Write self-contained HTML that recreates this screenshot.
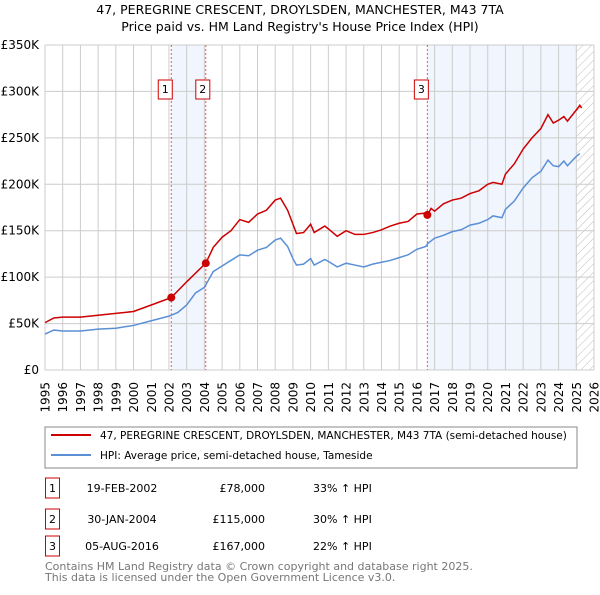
<!DOCTYPE html>
<html><head><meta charset="utf-8"><style>
body{margin:0;width:600px;height:590px;background:#fff;font-family:"Liberation Sans","DejaVu Sans",sans-serif;overflow:hidden}
svg text{font-family:"DejaVu Sans","Liberation Sans",sans-serif}
</style></head><body>
<svg id="c" width="600" height="590">
<text x="300" y="14" text-anchor="middle" font-size="12.5">47, PEREGRINE CRESCENT, DROYLSDEN, MANCHESTER, M43 7TA</text>
<text x="300" y="31" text-anchor="middle" font-size="12.5">Price paid vs. HM Land Registry's House Price Index (HPI)</text>
<g id="plot"></g>
<rect x="45" y="427" width="532" height="41" fill="none" stroke="#888"/>
<line x1="51" y1="435" x2="91" y2="435" stroke="#cc0000" stroke-width="2"/>
<text x="100" y="439" font-size="10.5">47, PEREGRINE CRESCENT, DROYLSDEN, MANCHESTER, M43 7TA (semi-detached house)</text>
<line x1="51" y1="455" x2="91" y2="455" stroke="#5b8fd6" stroke-width="2"/>
<text x="100" y="459" font-size="10.5">HPI: Average price, semi-detached house, Tameside</text>
<g id="tbl"></g>
<text x="45" y="570" font-size="11" fill="#777">Contains HM Land Registry data © Crown copyright and database right 2025.</text>
<text x="45" y="581" font-size="11" fill="#777">This data is licensed under the Open Government Licence v3.0.</text>
</svg>
<script>
const hpiT=[1995,1995.5,1996,1997,1998,1999,2000,2001,2002,2002.5,2003,2003.5,2004,2004.5,2005,2005.5,2006,2006.5,2007,2007.5,2008,2008.3,2008.7,2009,2009.2,2009.6,2010,2010.2,2010.8,2011,2011.5,2012,2012.5,2013,2013.5,2014,2014.5,2015,2015.5,2016,2016.5,2016.6,2017,2017.5,2018,2018.5,2019,2019.5,2020,2020.3,2020.8,2021,2021.5,2022,2022.5,2023,2023.4,2023.7,2024,2024.3,2024.5,2025,2025.2];
const hpiV=[38.7,43,42,42,44,45,48,53,58,62,70,83,89,106,112,118,124,123,129,132,140,142,133,120,113,114,120,113,119,117,111,115,113,111,114,116,118,121,124,130,133,136,142,145,149,151,156,158,162,166,164,173,182,196,207,214,226,220,219,225,220,230,233];
const redT=[1995,1995.5,1996,1997,1998,1999,2000,2001,2002.13,2003,2004.08,2004.5,2005,2005.5,2006,2006.5,2007,2007.5,2008,2008.3,2008.7,2009.2,2009.6,2010,2010.2,2010.8,2011,2011.5,2012,2012.5,2013,2013.5,2014,2014.5,2015,2015.5,2016,2016.5,2016.6,2016.8,2017,2017.5,2018,2018.5,2019,2019.5,2020,2020.3,2020.8,2021,2021.5,2022,2022.5,2023,2023.4,2023.7,2024,2024.3,2024.5,2025,2025.2,2025.3];
const redV=[51,56,57,57,59,61,63,70,78,95,115,132,143,150,162,159,168,172,183,185,172,147,148,157,148,155,152,144,150,146,146,148,151,155,158,160,168,169,167,174,171,179,183,185,190,193,200,202,200,211,222,238,250,260,275,266,269,273,268,280,285,282];
const saleT=[2002.13,2004.08,2016.59];
const saleV=[78,115,167];
const saleLabels=["1","2","3"];
const saleDates=["19-FEB-2002","30-JAN-2004","05-AUG-2016"];
const salePrices=["£78,000","£115,000","£167,000"];
const salePct=["33% ↑ HPI","30% ↑ HPI","22% ↑ HPI"];
const yTicks=[0,50,100,150,200,250,300,350];
const yLabels=["£0","£50K","£100K","£150K","£200K","£250K","£300K","£350K"];
const xYears=[1995,1996,1997,1998,1999,2000,2001,2002,2003,2004,2005,2006,2007,2008,2009,2010,2011,2012,2013,2014,2015,2016,2017,2018,2019,2020,2021,2022,2023,2024,2025,2026];
const X=t=>45+(t-1995)*549/31, Y=v=>370-v*325/350;
const NS="http://www.w3.org/2000/svg",g=document.getElementById('plot');
function mk(tag,a,p){const e=document.createElementNS(NS,tag);for(const k in a)e.setAttribute(k,a[k]);(p||g).appendChild(e);return e;}
let e;
e=mk('rect',{x:X(saleT[0]),y:Y(350),width:X(saleT[1])-X(saleT[0]),height:325,fill:'#eef3fc',opacity:0.8});


e=mk('rect',{x:X(saleT[2]),y:Y(350),width:X(2025)-X(saleT[2]),height:325,fill:'#eef3fc',opacity:0.8});


const pat=mk('pattern',{id:'h',width:6,height:6,patternUnits:'userSpaceOnUse',patternTransform:'rotate(45)'});
mk('line',{x1:0,y1:0,x2:0,y2:6,stroke:'#bbb','stroke-width':1},pat);
e=mk('rect',{x:X(2025),y:Y(350),width:X(2026)-X(2025),height:325,fill:'url(#h)'});


yTicks.forEach((v,i)=>{
 e=mk('line',{x1:45,x2:594,y1:Y(v),y2:Y(v),stroke:'#ccc'});
 
 
 e=mk('text',{x:39,y:Y(v)+4,'text-anchor':'end','font-size':12});e.textContent=yLabels[i];
 
 
});
xYears.forEach(y=>{
 e=mk('line',{x1:X(y),x2:X(y),y1:Y(350),y2:370,stroke:'#ccc'});
 
 
 e=mk('text',{x:0,y:0,'text-anchor':'end','font-size':12,transform:`translate(${X(y)+4.5},382) rotate(-90)`});e.textContent=y;
 
 
});
saleT.forEach((t,i)=>{
 e=mk('line',{x1:X(t),x2:X(t),y1:Y(350),y2:370,stroke:'#e55','stroke-dasharray':'2,2'});
 
 
 const off=(i==1?0:3);
 e=mk('rect',{x:X(t)-10-off,y:80,width:14,height:19,fill:'#fff',stroke:'#cc0000'});
 
 
 e=mk('text',{x:X(t)-3-off,y:93,'text-anchor':'middle','font-size':11});e.textContent=saleLabels[i];
 
 
});
e=mk('polyline',{points:hpiT.map((t,i)=>X(t)+','+Y(hpiV[i])).join(' '),fill:'none',stroke:'#5b8fd6','stroke-width':1.5});


e=mk('polyline',{points:redT.map((t,i)=>X(t)+','+Y(redV[i])).join(' '),fill:'none',stroke:'#cc0000','stroke-width':1.5});


saleT.forEach((t,i)=>{
 e=mk('circle',{cx:X(t),cy:Y(saleV[i]),r:4,fill:'#cc0000'});
 
 
});
const tb=document.getElementById('tbl');const rows=[487,518,545];
rows.forEach((y,i)=>{
 e=mk('rect',{x:45.5,y:y-9,width:14,height:20,fill:'#fff',stroke:'#cc0000'},tb);
 
 
 e=mk('text',{x:52.5,y:y+5,'text-anchor':'middle','font-size':11},tb);e.textContent=saleLabels[i];
 
 
 e=mk('text',{x:122,y:y+5,'text-anchor':'middle','font-size':11},tb);e.textContent=saleDates[i];
 
 
 e=mk('text',{x:265,y:y+5,'text-anchor':'end','font-size':11},tb);e.textContent=salePrices[i];
 
 
 e=mk('text',{x:313,y:y+5,'font-size':11},tb);e.textContent=salePct[i];
 
 
});
</script>
</body></html>
